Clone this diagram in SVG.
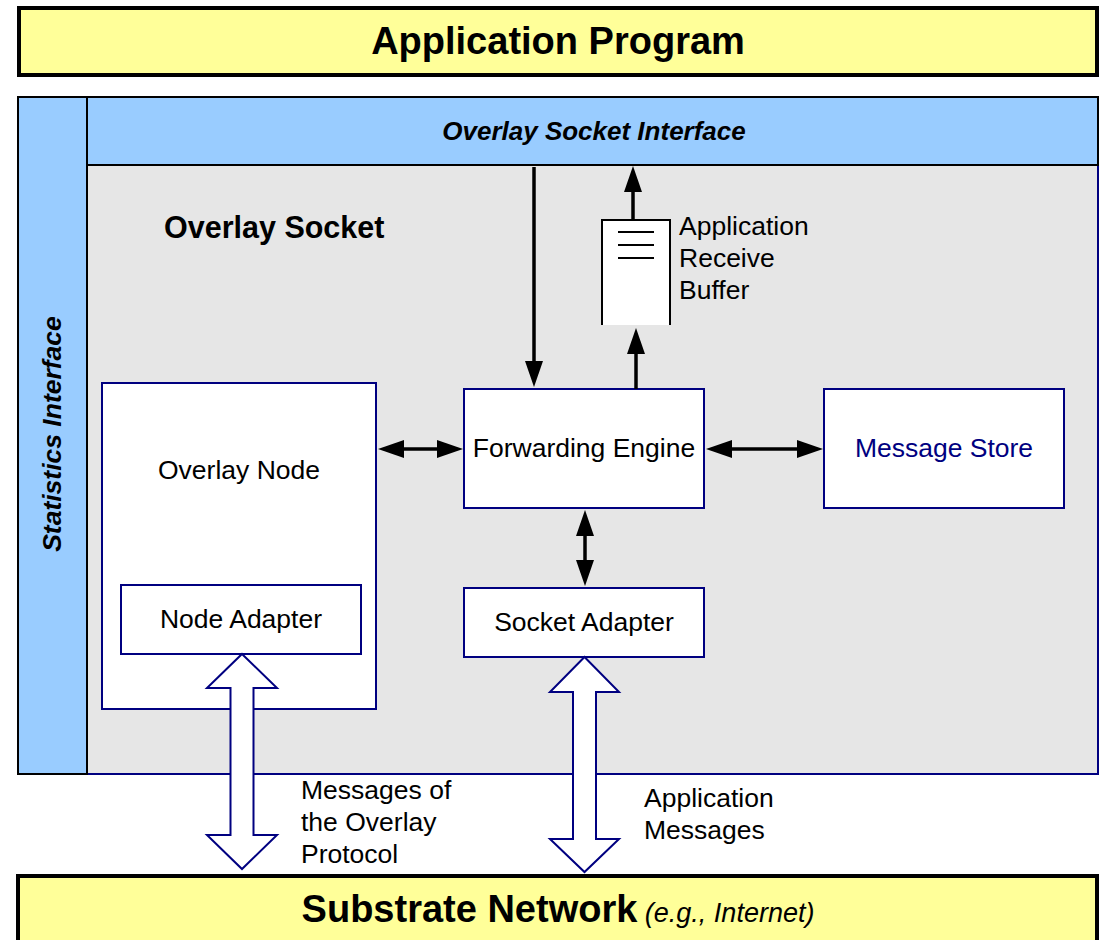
<svg xmlns="http://www.w3.org/2000/svg" width="1100" height="940" viewBox="0 0 1100 940">
<style>
text{font-family:"Liberation Sans",Arial,sans-serif;fill:#000}
.bar{fill:#FFFF99;stroke:#000;stroke-width:4}
.blue{fill:#99CCFF;stroke:#000;stroke-width:2}
.box{fill:#fff;stroke:#000080;stroke-width:2}
.lbl{font-size:26.5px;text-anchor:middle}
.side{font-size:26.5px}
.conn{stroke:#000;stroke-width:3.5;fill:none}
.block{fill:#fff;stroke:#000080;stroke-width:2;stroke-linejoin:miter}
</style>
<defs>
<marker id="ah" markerUnits="userSpaceOnUse" markerWidth="26" markerHeight="18" refX="0" refY="9" orient="auto-start-reverse" viewBox="0 0 26 18"><path d="M0,0 L26,9 L0,18 z" fill="#000"/></marker>
</defs>
<g id="application-program">
<rect class="bar" x="19" y="8" width="1078" height="67"/>
<text x="558" y="54" font-size="38" font-weight="bold" text-anchor="middle">Application Program</text>
</g>
<g id="overlay-socket">
<rect x="87" y="165" width="1011" height="609" fill="#E6E6E6" stroke="#000080" stroke-width="2"/>
<text x="164" y="238" font-size="30.5" font-weight="bold">Overlay Socket</text>
</g>
<g id="overlay-socket-interface">
<rect class="blue" x="87" y="97" width="1011" height="68"/>
<text x="594" y="140" font-size="26" font-weight="bold" font-style="italic" text-anchor="middle">Overlay Socket Interface</text>
</g>
<g id="statistics-interface">
<rect class="blue" x="18" y="97" width="69" height="677"/>
<text transform="translate(61,434) rotate(-90)" font-size="26.5" font-weight="bold" font-style="italic" text-anchor="middle">Statistics Interface</text>
</g>
<g id="overlay-node">
<rect class="box" x="102" y="383" width="274" height="326"/>
<text class="lbl" x="239" y="479">Overlay Node</text>
</g>
<g id="node-adapter">
<rect class="box" x="121" y="585" width="240" height="69"/>
<text class="lbl" x="241" y="628">Node Adapter</text>
</g>
<g id="forwarding-engine">
<rect class="box" x="464" y="389" width="240" height="119"/>
<text class="lbl" x="584" y="457">Forwarding Engine</text>
</g>
<g id="message-store">
<rect class="box" x="824" y="389" width="240" height="119"/>
<text class="lbl" x="944" y="457" style="fill:#000080">Message Store</text>
</g>
<g id="socket-adapter">
<rect class="box" x="464" y="588" width="240" height="69"/>
<text class="lbl" x="584" y="631">Socket Adapter</text>
</g>
<g id="receive-buffer">
<rect x="602" y="220" width="68" height="105" fill="#fff"/>
<path d="M602,325 V220 H670 V325" fill="none" stroke="#000" stroke-width="2"/>
<path d="M618,232 H654 M618,245 H654 M618,258 H654" stroke="#000" stroke-width="2"/>
<text class="side" x="679" y="235">Application</text>
<text class="side" x="679" y="267">Receive</text>
<text class="side" x="679" y="299">Buffer</text>
</g>
<g id="substrate-network">
<rect class="bar" x="18" y="876" width="1079" height="80"/>
<text x="558" y="922" text-anchor="middle"><tspan font-size="38" font-weight="bold">Substrate Network</tspan><tspan font-size="27" font-style="italic"> (e.g., Internet)</tspan></text>
</g>
<g id="connectors">
<line class="conn" x1="534" y1="167" x2="534" y2="361" marker-end="url(#ah)"/>
<line class="conn" x1="636" y1="389" x2="636" y2="354" marker-end="url(#ah)"/>
<line class="conn" x1="633" y1="220" x2="633" y2="192" marker-end="url(#ah)"/>
<line class="conn" x1="404" y1="449" x2="437" y2="449" marker-start="url(#ah)" marker-end="url(#ah)"/>
<line class="conn" x1="732" y1="449" x2="797" y2="449" marker-start="url(#ah)" marker-end="url(#ah)"/>
<line class="conn" x1="585" y1="536" x2="585" y2="560" marker-start="url(#ah)" marker-end="url(#ah)"/>
<polygon class="block" points="242,654 277,688 253.5,688 253.5,835 277,835 242,869 207,835 230.5,835 230.5,688 207,688"/>
<polygon class="block" points="584.5,657 619,692 596,692 596,839 619,839 584.5,872 550,839 573,839 573,692 550,692"/>
<text class="side" x="301" y="799">Messages of</text>
<text class="side" x="301" y="831">the Overlay</text>
<text class="side" x="301" y="863">Protocol</text>
<text class="side" x="644" y="807">Application</text>
<text class="side" x="644" y="839">Messages</text>
</g>
</svg>
